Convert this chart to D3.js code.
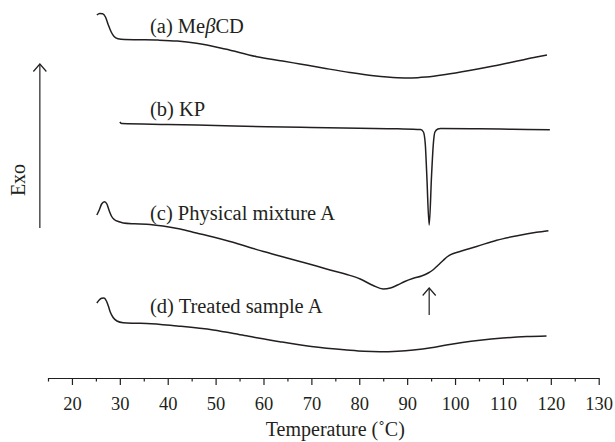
<!DOCTYPE html>
<html>
<head>
<meta charset="utf-8">
<script src="https://cdn.jsdelivr.net/npm/d3@7"></script>
<style>
  html, body { margin: 0; padding: 0; background: #fff; }
  svg { display: block; }
</style>
</head>
<body>
<svg id="chart" width="615" height="442"></svg>
<script>
// ---- data (temperature in °C, heat flow in arbitrary units, curves offset) ----
const tempA = [25.2, 25.8, 26.4, 27.0, 27.6, 28.2, 28.8, 29.6, 31, 34, 38, 42, 46, 52, 58.6, 64, 67.6, 72.4, 78, 83, 88, 91, 94, 98, 103, 108, 113, 117, 119.2];
const flowA = [38.5, 38.65, 38.63, 38.3, 37.5, 36.8, 36.35, 36.12, 36.04, 36.02, 35.99, 35.9, 35.68, 35.1, 34.33, 33.9, 33.6, 33.2, 32.75, 32.42, 32.23, 32.21, 32.3, 32.55, 32.95, 33.4, 33.9, 34.3, 34.5];

const tempB = [30.0, 30.4, 40, 50, 60.7, 70, 80, 88, 92.8, 93.4, 93.8, 94.1, 94.6, 95.1, 95.45, 95.8, 96.4, 97, 105, 112, 119.8];
const flowB = [27.8, 27.64, 27.55, 27.45, 27.33, 27.25, 27.17, 27.12, 27.05, 26.8, 25.5, 22.5, 17.5, 22.5, 25.5, 26.8, 27.1, 27.15, 27.12, 27.08, 27.02];

const tempC = [25.2, 25.7, 26.2, 26.8, 27.3, 27.8, 28.3, 28.9, 29.8, 30.7, 33, 35.6, 39, 42.6, 46, 49.5, 53, 56.5, 60, 63.4, 67.6, 70.3, 73.9, 77.4, 80.2, 82.9, 85, 86.5, 88, 89.5, 91.3, 93, 94.4, 95.5, 96.5, 97.5, 98.3, 99.2, 100.3, 102, 104.5, 108.7, 113, 117, 119.5];
const flowC = [18.5, 19.0, 19.6, 19.83, 19.6, 18.9, 18.35, 18.02, 17.83, 17.7, 17.62, 17.58, 17.4, 17.1, 16.7, 16.3, 15.85, 15.35, 14.85, 14.4, 13.85, 13.5, 13.0, 12.55, 12.1, 11.45, 11.1, 11.2, 11.5, 11.85, 12.17, 12.4, 12.7, 13.05, 13.5, 13.95, 14.3, 14.57, 14.75, 15.0, 15.35, 15.98, 16.43, 16.77, 16.93];

const tempD = [25.2, 25.7, 26.2, 26.7, 27.2, 27.6, 28.0, 28.6, 29.4, 30.7, 33, 35.6, 42, 49.5, 56, 63.4, 70, 77.4, 81, 84.3, 88, 91.3, 95, 98.2, 101.5, 105.2, 110, 115, 119.1];
const flowD = [9.7, 10.0, 10.17, 10.2, 9.9, 9.4, 8.8, 8.25, 7.9, 7.73, 7.68, 7.66, 7.4, 7.0, 6.45, 5.83, 5.35, 5.0, 4.87, 4.83, 4.88, 5.0, 5.22, 5.5, 5.75, 5.98, 6.2, 6.34, 6.4];

// label parts: [plain, italic, plain]
const seriesNames = [["(a) Me", "\u03B2", "CD"], ["(b) KP", "", ""], ["(c) Physical mixture A", "", ""], ["(d) Treated sample A", "", ""]];
const labelTemp = 36.3;
const labelFlow = [36.7, 28.4, 18.05, 8.7];

const majorTicks = [20, 30, 40, 50, 60, 70, 80, 90, 100, 110, 120, 130];
const minorTicks = [15, 25, 35, 45, 55, 65, 75, 85, 95, 105, 115, 125];
const xTitle = "Temperature (\u02DAC)";
const yTitle = "Exo";
const meltArrowTemp = 94.6;           // KP melting event marker
const meltArrowFlow = [11.2, 8.5];    // top, bottom
const exoArrowFlow = [33.6, 17.2];    // top, bottom

// ---- layout ----
const svg = d3.select("#chart");
const ink = "#231f20";
const font = "'Liberation Serif', 'Times New Roman', serif";

const x = d3.scaleLinear().domain([15, 130]).range([48, 598.7]);
const y = d3.scaleLinear().domain([0, 40]).range([400, 0]);
const axisY = 378;

// curves
const series = [
  {t: tempA, f: flowA},
  {t: tempB, f: flowB},
  {t: tempC, f: flowC},
  {t: tempD, f: flowD}
];
const line = d3.line().x(d => x(d[0])).y(d => y(d[1])).curve(d3.curveMonotoneX);
series.forEach(s => {
  const pts = s.t.map((t, i) => [t, s.f[i]]);
  svg.append("path")
    .attr("d", line(pts))
    .attr("fill", "none")
    .attr("stroke", ink)
    .attr("stroke-width", 1.5)
    .attr("stroke-linejoin", "round");
});

// series labels
const lbl = svg.selectAll("text.lbl").data(seriesNames).enter().append("text")
  .attr("class", "lbl")
  .attr("x", x(labelTemp))
  .attr("y", (d, i) => y(labelFlow[i]))
  .attr("font-family", font)
  .attr("font-size", 20.5)
  .attr("fill", ink);
lbl.append("tspan").text(d => d[0]);
lbl.append("tspan").attr("font-style", "italic").text(d => d[1]);
lbl.append("tspan").text(d => d[2]);

// x axis
const gAxis = svg.append("g").attr("transform", `translate(0,${axisY})`);
gAxis.call(d3.axisBottom(x).tickValues(majorTicks).tickSize(7).tickSizeOuter(0).tickFormat(d3.format("d")));
gAxis.select(".domain").attr("stroke", ink).attr("stroke-width", 1.2);
gAxis.selectAll(".tick line").attr("stroke", ink).attr("stroke-width", 1.2);
gAxis.selectAll(".tick text")
  .attr("y", 32.2).attr("dy", null)
  .attr("font-family", font).attr("font-size", 18.5).attr("fill", ink);

const gMinor = svg.append("g").attr("transform", `translate(0,${axisY})`);
gMinor.call(d3.axisBottom(x).tickValues(minorTicks).tickSize(3.5).tickSizeOuter(0).tickFormat(""));
gMinor.select(".domain").remove();
gMinor.selectAll(".tick line").attr("stroke", ink).attr("stroke-width", 1.2);

svg.append("text")
  .attr("x", (x(20) + x(130)) / 2)
  .attr("y", 436)
  .attr("text-anchor", "middle")
  .attr("font-family", font).attr("font-size", 20).attr("fill", ink)
  .text(xTitle);

// Exo label and arrow
svg.append("text")
  .attr("transform", `translate(25,180) rotate(-90)`)
  .attr("text-anchor", "middle")
  .attr("font-family", font).attr("font-size", 20).attr("fill", ink)
  .text(yTitle);

function upArrow(px, yTop, yBot) {
  svg.append("line")
    .attr("x1", px).attr("x2", px).attr("y1", yTop).attr("y2", yBot)
    .attr("stroke", ink).attr("stroke-width", 1.2);
  svg.append("path")
    .attr("d", `M${px - 6.5},${yTop + 7.5} L${px},${yTop} L${px + 6.5},${yTop + 7.5}`)
    .attr("fill", "none").attr("stroke", ink).attr("stroke-width", 1.2);
}
upArrow(x(13.3), y(exoArrowFlow[0]), y(exoArrowFlow[1]));
upArrow(x(meltArrowTemp), y(meltArrowFlow[0]), y(meltArrowFlow[1]));
</script>
</body>
</html>
